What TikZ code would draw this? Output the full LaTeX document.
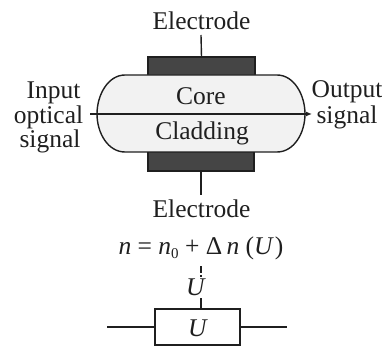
\documentclass[tikz,border=0pt]{standalone}
\usepackage{fontspec}
\setmainfont{Liberation Serif}
\usetikzlibrary{arrows.meta}
\definecolor{ink}{gray}{0.12}
\definecolor{plate}{gray}{0.27}
\definecolor{fillcore}{gray}{0.95}
\tikzset{
  lbl/.style={font=\fontsize{25.5}{27}\selectfont, text=ink, inner sep=0pt, outer sep=0pt, anchor=base},
  wire/.style={draw=ink, line width=1.4pt},
  electrodeplate/.style={draw=ink, line width=1.2pt, fill=plate, inner sep=0pt, outer sep=0pt, anchor=south west},
  ubox/.style={draw=ink, line width=1.6pt, fill=white, inner sep=0pt, outer sep=0pt, anchor=south west, minimum width=85pt, minimum height=36pt}
}
\begin{document}
\begin{tikzpicture}[x=1pt,y=-1pt]
\useasboundingbox (0,0) rectangle (382,347);
% electrodes
\node[electrodeplate, minimum width=107pt, minimum height=19pt] (topE) at (148,76) {};
\node[electrodeplate, minimum width=106pt, minimum height=20pt] (botE) at (148,171) {};
% capsule
\draw[wire, fill=fillcore] (125,75) -- (277,75) .. controls (294,75) and (305,95) .. (305,114)
  .. controls (305,133) and (294,152) .. (277,152) -- (125,152)
  .. controls (108,152) and (97,133) .. (97,114) .. controls (97,95) and (108,75) .. (125,75) -- cycle;
% labels
\node[lbl] (elT) at (201.5,30) {Electrode};
\node[lbl] (elB) at (201.5,217) {Electrode};
\node[lbl] (core) at (201,105) {Core};
\node[lbl] (clad) at (202,140) {Cladding};
\node[lbl] (in1) at (53.5,99) {Input};
\node[lbl] (in2) at (48.5,124) {optical};
\node[lbl] (in3) at (50,148) {signal};
\node[lbl] (out1) at (347,98) {Output};
\node[lbl] (out2) at (347,124) {signal};
\node[lbl] (formula) at (201,254) {\textit{n} = \textit{n}\raisebox{-4pt}{\fontsize{15}{15}\selectfont 0} + Δ\,\textit{n} (\textit{U}\kern1pt)};
\node[lbl] (uTop) at (196,295) {\textit{U}};
% axis
\coordinate (axL) at (90,114);
\coordinate (axR) at (312,114);
\draw[wire, -{Latex[length=6pt,width=5pt]}] (axL) -- (axR);
% electrode leads
\coordinate (topEnd) at (201,35);
\coordinate (botEnd) at (201,195);
\draw[wire] (topEnd) -- (topE.north);
\draw[wire] (botE.south) -- (botEnd);
% voltage box
\node[ubox] (box) at (155,345) {};
\node[lbl] (uBox) at (198,336) {\textit{U}};
\coordinate (leadL) at (107,327);
\coordinate (leadR) at (287,327);
\draw[wire] (leadL) -- (box.west);
\draw[wire] (box.east) -- (leadR);
% links
\coordinate (stubT) at (201,266);
\coordinate (stubM) at (201,277);
\coordinate (stubB) at (201,298);
\draw[wire, dash pattern=on 7pt off 2pt] (stubT) -- (stubM);
\draw[wire] (stubB) -- (201,309);
\end{tikzpicture}
\end{document}
